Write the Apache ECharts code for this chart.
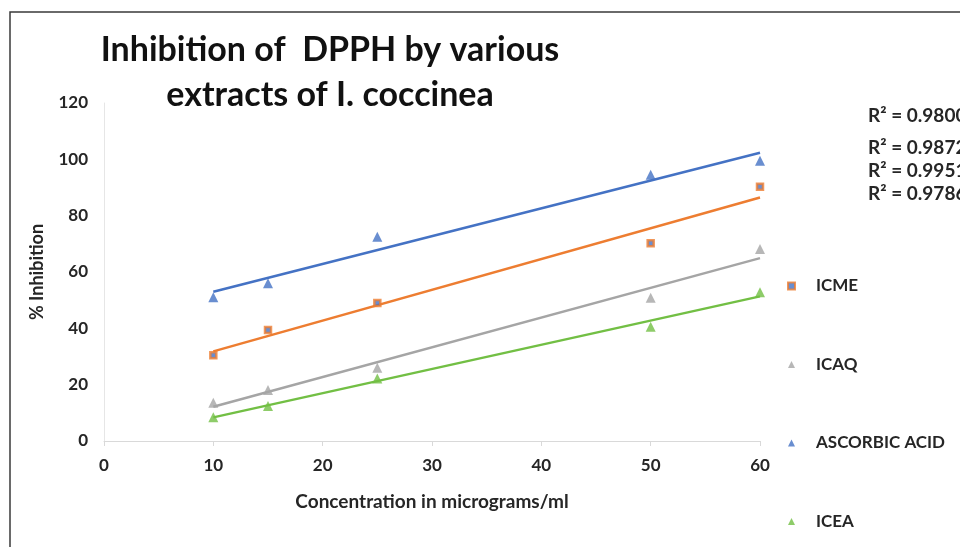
<!DOCTYPE html>
<html><head><meta charset="utf-8">
<script src="https://cdn.jsdelivr.net/npm/echarts@6/dist/echarts.min.js"></script>
<style>html,body{margin:0;padding:0;background:#fff}#c{width:960px;height:547px}</style>
</head><body><div id="c"></div>
<script>
const concentrations = [10, 15, 25, 50, 60];
const icme = [30.4, 39.4, 49, 70.2, 90.3];
const icaq = [13.6, 18.1, 26, 50.9, 68.2];
const ascorbic = [51, 56, 72.5, 94.5, 99.5];
const icea = [8.4, 12.4, 22.2, 40.6, 52.8];
const seriesNames = ['ICME', 'ICAQ', 'ASCORBIC ACID', 'ICEA'];
const r2Labels = ['R² = 0.9800', 'R² = 0.9872', 'R² = 0.9951', 'R² = 0.9786'];
const yTicks = [0, 20, 40, 60, 80, 100, 120];
const xTicks = [0, 10, 20, 30, 40, 50, 60];

const FONT = 'Lato, "Open Sans", sans-serif';
const colors = {ICME:'#ED7D31', ICAQ:'#A5A5A5', 'ASCORBIC ACID':'#4472C4', ICEA:'#72BF44'};

function pts(ys){ return concentrations.map((x,i)=>[x, ys[i]]); }
function trend(ys){
  const n = concentrations.length;
  const mx = concentrations.reduce((a,b)=>a+b,0)/n;
  const my = ys.reduce((a,b)=>a+b,0)/n;
  let sxy=0, sxx=0;
  for(let i=0;i<n;i++){ sxy+=(concentrations[i]-mx)*(ys[i]-my); sxx+=(concentrations[i]-mx)**2; }
  const b = sxy/sxx, a = my - b*mx;
  const x0 = Math.min(...concentrations), x1 = Math.max(...concentrations);
  return [[x0, a+b*x0],[x1, a+b*x1]];
}
const dataMap = {ICME: icme, ICAQ: icaq, 'ASCORBIC ACID': ascorbic, ICEA: icea};

const series = [];
seriesNames.forEach(name=>{
  series.push({
    name: name+' trend', type:'line', data: trend(dataMap[name]), symbol:'none',
    lineStyle:{color: colors[name], width: 2.5}, silent:true, z:2
  });
});
seriesNames.forEach(name=>{
  const isME = name==='ICME';
  series.push({
    name, type:'scatter', data: pts(dataMap[name]),
    symbol: isME ? 'rect' : 'triangle', symbolSize: isME ? 6 : 10,
    itemStyle: isME ? {color:'#4472C4', borderColor:'#ED7D31', borderWidth:2.5} : {color: colors[name]},
    z:3
  });
});

const chart = echarts.init(document.getElementById('c'));
chart.setOption({
  animation:false,
  backgroundColor:'#fff',
  grid:{left:104, right:200, top:103, bottom:106},
  xAxis:{type:'value', min:0, max:60, interval:10,
    axisLine:{show:true, lineStyle:{color:'#d9d9d9'}},
    axisTick:{show:true, length:5, lineStyle:{color:'#d9d9d9'}},
    splitLine:{show:false},
    axisLabel:{color:'#262626', fontFamily:FONT, fontWeight:'bold', fontSize:17, margin:16},
    name:'Concentration in micrograms/ml', nameLocation:'middle', nameGap:51,
    nameTextStyle:{color:'#262626', fontFamily:FONT, fontWeight:'bold', fontSize:19}
  },
  yAxis:{type:'value', min:0, max:120, interval:20,
    axisLine:{show:true, lineStyle:{color:'#e6e6e6'}},
    axisTick:{show:false}, splitLine:{show:false},
    axisLabel:{color:'#262626', fontFamily:FONT, fontWeight:'bold', fontSize:17, margin:16},
    name:'% Inhibition', nameLocation:'middle', nameGap:58, nameRotate:90,
    nameTextStyle:{color:'#262626', fontFamily:FONT, fontWeight:'bold', fontSize:18}
  },
  legend:{data: seriesNames, orient:'vertical', left:787, top:277, itemGap:60.5, padding:0,
    itemWidth:7, itemHeight:7,
    textStyle:{color:'#262626', fontFamily:FONT, fontWeight:'bold', fontSize:17, lineHeight:18, padding:[0,0,0,16]}
  },
  graphic:[
    {type:'rect', shape:{x:10, y:12, width:1000, height:600}, style:{fill:'none', stroke:'#3a3a3a', lineWidth:1.5}, silent:true},
    {type:'text', x:330, y:28, style:{text:'Inhibition of  DPPH by various\nextracts of I. coccinea', textAlign:'center', font:'bold 34px '+FONT, lineHeight:45, fill:'#111'}},
    ...r2Labels.map((t,i)=>({type:'text', x:868, y:[116,148,171,194][i], style:{text:t, textVerticalAlign:'middle', font:'bold 19px '+FONT, fill:'#262626'}}))
  ],
  series
});
</script></body></html>
